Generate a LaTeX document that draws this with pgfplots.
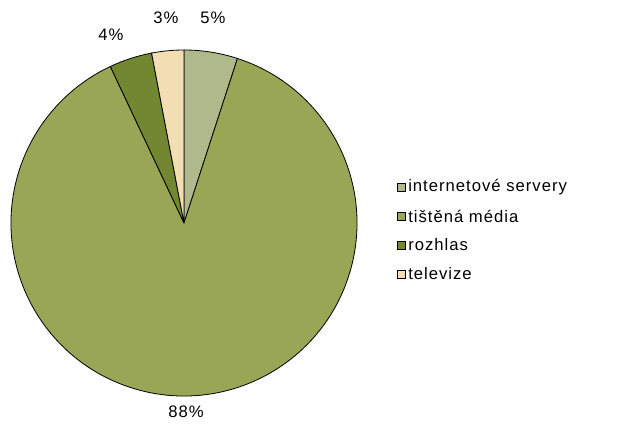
\documentclass[border=0pt]{standalone}
\usepackage{pgfplots}
\usepackage{pgfplotstable}
\pgfplotsset{compat=1.18}
\usepackage{fontspec}
\setmainfont{Liberation Sans}
\definecolor{cInt}{HTML}{AFB98C}
\definecolor{cTis}{HTML}{99A656}
\definecolor{cRoz}{HTML}{738632}
\definecolor{cTel}{HTML}{F2DEB2}
\pgfplotstableread{
name value col
internet 5 cInt
tistena 88 cTis
rozhlas 4 cRoz
televize 3 cTel
}\piedata
\begin{document}
\begin{tikzpicture}
\begin{axis}[
  scale only axis, width=466.5pt, height=321pt,
  xmin=0, xmax=622, ymin=0, ymax=428,
  hide axis, clip=false,
]
\coordinate (ll) at (axis cs:0,0);
\coordinate (ur) at (axis cs:622,428);
\xdef\curang{90}
\pgfplotsinvokeforeach{0,1,2,3}{
  \pgfplotstablegetelem{#1}{value}\of\piedata
  \let\myv\pgfplotsretval
  \pgfplotstablegetelem{#1}{col}\of\piedata
  \let\myc\pgfplotsretval
  \pgfmathsetmacro\endang{\curang - 3.6*\myv}
  \pgfmathsetmacro\sx{184 + 173*cos(\curang)}
  \pgfmathsetmacro\sy{205 + 173*sin(\curang)}
  \edef\cmd{\noexpand\filldraw[fill=\myc, draw=black, line width=0.6pt, line join=round]
    (axis cs:184,205) -- (axis cs:\sx,\sy) arc[start angle=\curang, end angle=\endang, radius=129.75pt] -- cycle;}
  \cmd
  \xdef\curang{\endang}
}
\tikzset{lab/.style={font=\fontsize{12.5}{14}\selectfont\addfontfeature{LetterSpace=6}, inner sep=0pt}}
\node[lab] at (axis cs:213,410) {5\%};
\node[lab] at (axis cs:166,410) {3\%};
\node[lab] at (axis cs:111,393) {4\%};
\node[lab] at (axis cs:186,16) {88\%};
% legend
\filldraw[fill=cInt, draw=black, line width=0.6pt] (axis cs:397,237) rectangle (axis cs:405,245);
\node[lab, anchor=west] at (axis cs:408,241) {internetové servery};
\filldraw[fill=cTis, draw=black, line width=0.6pt] (axis cs:397,208) rectangle (axis cs:405,216);
\node[lab, anchor=west] at (axis cs:408,212) {tištěná média};
\filldraw[fill=cRoz, draw=black, line width=0.6pt] (axis cs:397,179) rectangle (axis cs:405,187);
\node[lab, anchor=west] at (axis cs:408,183) {rozhlas};
\filldraw[fill=cTel, draw=black, line width=0.6pt] (axis cs:397,150) rectangle (axis cs:405,158);
\node[lab, anchor=west] at (axis cs:408,154) {televize};
\end{axis}
\pgfresetboundingbox
\path[use as bounding box] (ll) rectangle (ur);
\end{tikzpicture}
\end{document}
